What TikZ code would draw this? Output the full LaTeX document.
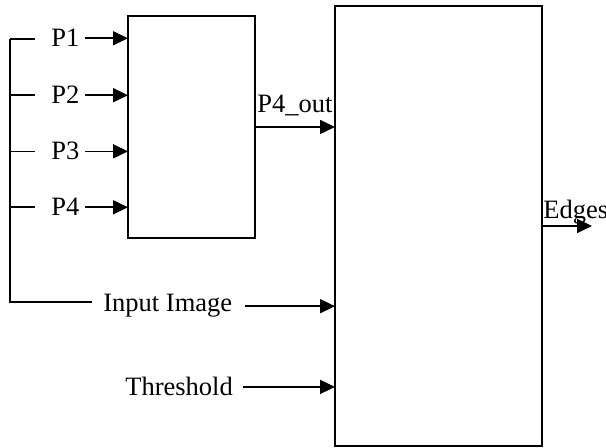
\documentclass[tikz,border=0pt]{standalone}
\usepackage{fontspec}
\setmainfont{Liberation Serif}
\usetikzlibrary{arrows.meta}
\tikzset{
    blk/.style={draw, line width=1pt, outer sep=0pt, inner sep=0pt},
    lbl/.style={inner sep=0pt, anchor=base west},
    wire/.style={line width=0.85pt},
    arr/.style={line width=0.85pt, -{Triangle[length=7.5pt,width=7pt]}}
}

\begin{document}
\begin{tikzpicture}[x=0.5pt,y=-0.5pt,font=\fontsize{13.25}{15}\selectfont]
        \useasboundingbox (0,0) rectangle (606,448);
        % blocks
        \node[blk, minimum width=63.5pt, minimum height=111pt] (small) at (191.5,127) {};
        \node[blk, minimum width=103.5pt, minimum height=220pt] (big) at (438.5,226) {};
        % labels
        \node[lbl] (p1) at (51,47) {P1};
        \node[lbl] (p2) at (51,104) {P2};
        \node[lbl] (p3) at (51,160) {P3};
        \node[lbl] (p4) at (51,216) {P4};
        \node[lbl] (inp) at (103,312) {Input Image};
        \node[lbl] (thr) at (125,396) {Threshold};
        \node[lbl] (p4out) at (257,113) {P4\_out};
        \node[lbl] (edges) at (543,219) {Edges};
        \coordinate (top) at (10,39);
        \coordinate (bot) at (10,302);
        \coordinate (inl) at (92,302);
        \coordinate (out) at (592,226);
        % bus on the left
        \draw[wire] (top) -- (bot) -- (inl);
        \draw[wire, shorten >=8pt] (top) -- (top -| p1.west);
        \draw[wire, shorten >=8pt] (p2.west -| top) -- (p2.west);
        \draw[wire, shorten >=8pt] (p3.west -| top) -- (p3.west);
        \draw[wire, shorten >=8pt] (p4.west -| top) -- (p4.west);
        % inputs
        \draw[arr, shorten <=2.5pt] (p1.east) -- (p1.east -| small.west);
        \draw[arr, shorten <=2.5pt] (p2.east) -- (p2.east -| small.west);
        \draw[arr, shorten <=2.5pt] (p3.east) -- (p3.east -| small.west);
        \draw[arr, shorten <=2.5pt] (p4.east) -- (p4.east -| small.west);
        \draw[arr, shorten <=6pt] (inp.east) -- (inp.east -| big.west);
        \draw[arr, shorten <=5pt] (thr.east) -- (thr.east -| big.west);
        % outputs
        \draw[arr] (small.east) -- (small.east -| big.west);
        \draw[arr] (big.east) -- (out);
    \end{tikzpicture}
\end{document}
